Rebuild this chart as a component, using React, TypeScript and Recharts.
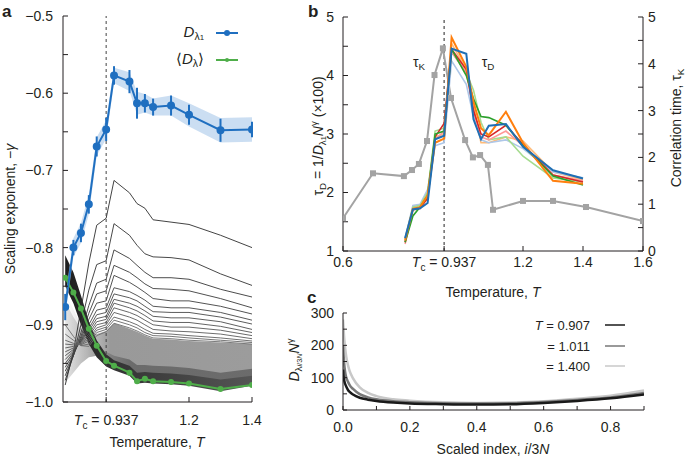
import React from "react";
import { ComposedChart, Line, Area, XAxis, YAxis, ReferenceLine, ErrorBar } from "recharts";

const FONT = "'Liberation Sans', Arial, Helvetica, sans-serif";
const INK = "#231f20";
const TC = 0.937;

// ---- panel a: scaling exponents vs temperature ----
const tempsA = [0.807, 0.833, 0.857, 0.882, 0.907, 0.937, 0.962, 1.011, 1.035, 1.06, 1.086, 1.143, 1.2, 1.3, 1.4];
const dLambda1 = [-0.877, -0.8, -0.781, -0.744, -0.669, -0.647, -0.577, -0.585, -0.613, -0.613, -0.618, -0.616, -0.628, -0.648, -0.647];
const dLambda1Err = [0.017, 0.01, 0.012, 0.012, 0.013, 0.015, 0.012, 0.015, 0.02, 0.012, 0.011, 0.013, 0.013, 0.015, 0.01];
const dLambda1Band = [0.012, 0.012, 0.013, 0.013, 0.012, 0.012, 0.01, 0.012, 0.015, 0.012, 0.011, 0.013, 0.015, 0.016, 0.016];
const dMean = [-0.839, -0.858, -0.879, -0.905, -0.927, -0.947, -0.953, -0.962, -0.973, -0.97, -0.973, -0.974, -0.976, -0.983, -0.978];

// individual eigenvalue curves (the upper, well separated ones)
const eig1 = [-0.978, -0.935, -0.88, -0.82, -0.771, -0.762, -0.713, -0.729, -0.743, -0.749, -0.764, -0.767, -0.77, -0.784, -0.8];
const eig2 = [-0.972, -0.94, -0.9, -0.855, -0.822, -0.817, -0.769, -0.784, -0.797, -0.808, -0.812, -0.813, -0.816, -0.834, -0.849];
const eig3 = [-0.966, -0.94, -0.91, -0.875, -0.846, -0.841, -0.803, -0.814, -0.823, -0.832, -0.839, -0.839, -0.841, -0.854, -0.864];
const eig4 = [-0.96, -0.94, -0.915, -0.885, -0.86, -0.856, -0.823, -0.832, -0.839, -0.847, -0.853, -0.854, -0.856, -0.866, -0.878];
const eig5 = [-0.955, -0.938, -0.918, -0.893, -0.872, -0.869, -0.836, -0.845, -0.851, -0.858, -0.866, -0.869, -0.869, -0.876, -0.886];
const eig6 = [-0.95, -0.936, -0.92, -0.9, -0.881, -0.878, -0.852, -0.857, -0.862, -0.868, -0.876, -0.878, -0.878, -0.884, -0.894];
const eig7 = [-0.945, -0.934, -0.921, -0.905, -0.887, -0.884, -0.86, -0.865, -0.869, -0.876, -0.883, -0.884, -0.884, -0.89, -0.899];
const eig8 = [-0.94, -0.932, -0.922, -0.908, -0.892, -0.889, -0.867, -0.872, -0.876, -0.882, -0.889, -0.891, -0.891, -0.896, -0.906];
const eig9 = [-0.935, -0.93, -0.923, -0.912, -0.896, -0.893, -0.872, -0.878, -0.882, -0.888, -0.895, -0.897, -0.897, -0.902, -0.91];
const eig10 = [-0.93, -0.928, -0.924, -0.915, -0.9, -0.897, -0.878, -0.884, -0.888, -0.894, -0.9, -0.903, -0.903, -0.907, -0.914];
const eig11 = [-0.925, -0.926, -0.925, -0.918, -0.904, -0.9, -0.884, -0.89, -0.894, -0.9, -0.906, -0.908, -0.909, -0.912, -0.918];
const eig12 = [-0.92, -0.924, -0.926, -0.921, -0.907, -0.903, -0.89, -0.896, -0.9, -0.906, -0.911, -0.912, -0.914, -0.917, -0.921];
const eig13 = [-0.912, -0.92, -0.927, -0.925, -0.91, -0.906, -0.894, -0.9, -0.904, -0.91, -0.914, -0.915, -0.917, -0.92, -0.923];
const eig14 = [-0.9, -0.915, -0.927, -0.928, -0.914, -0.909, -0.898, -0.904, -0.908, -0.913, -0.917, -0.918, -0.92, -0.922, -0.925];
const eigLines = [eig1, eig2, eig3, eig4, eig5, eig6, eig7, eig8, eig9, eig10, eig11, eig12, eig13, eig14];

// dense bundle of the remaining curves (upper / lower edge)
const denseHi = [-0.87, -0.89, -0.905, -0.912, -0.912, -0.908, -0.898, -0.905, -0.909, -0.914, -0.918, -0.919, -0.921, -0.923, -0.925];
const denseLo = [-0.975, -0.962, -0.95, -0.942, -0.94, -0.944, -0.95, -0.956, -0.963, -0.963, -0.964, -0.965, -0.967, -0.973, -0.968];
const midHi = [-0.86, -0.88, -0.9, -0.918, -0.93, -0.935, -0.94, -0.945, -0.952, -0.952, -0.953, -0.954, -0.956, -0.962, -0.957];
const darkHi = [-0.81, -0.832, -0.862, -0.895, -0.92, -0.938, -0.946, -0.953, -0.962, -0.961, -0.962, -0.963, -0.965, -0.971, -0.966];
const darkLo = [-0.85, -0.872, -0.9, -0.925, -0.942, -0.954, -0.959, -0.966, -0.976, -0.975, -0.976, -0.977, -0.979, -0.986, -0.979];

// ---- panel b: correlation times ----
const tauBlue = [1.22, 1.71, 1.73, 1.82, 2.91, 2.97, 4.46, 4.37, 3.25, 2.91, 3.14, 3.17, 2.78, 2.38, 2.24];
const tauOrange = [1.18, 1.72, 1.75, 1.95, 2.85, 2.92, 4.65, 4.15, 3.55, 3.1, 2.98, 3.38, 2.85, 2.2, 2.15];
const tauRed = [1.15, 1.72, 1.74, 1.9, 2.95, 3.18, 4.45, 4.1, 3.4, 3.0, 2.95, 3.15, 2.82, 2.3, 2.18];
const tauGreen = [1.15, 1.6, 1.75, 1.95, 3.0, 3.05, 4.45, 4.0, 3.6, 3.3, 3.28, 3.15, 2.8, 2.28, 2.13];
const tauLightGreen = [1.2, 1.75, 1.78, 2.0, 3.05, 3.1, 4.4, 4.05, 3.75, 3.2, 2.9, 2.95, 2.62, 2.25, 2.18];
const tauLightBlue = [1.22, 1.78, 1.8, 2.05, 2.8, 2.85, 4.25, 3.85, 3.3, 2.9, 2.85, 2.9, 2.75, 2.35, 2.25];
const tauPink = [1.12, 1.7, 1.72, 1.92, 2.9, 3.05, 4.4, 4.05, 3.4, 2.95, 2.9, 3.05, 2.8, 2.3, 2.2];
const tauPeach = [1.2, 1.75, 1.78, 2.0, 2.95, 3.0, 4.55, 4.1, 3.5, 2.85, 2.85, 2.95, 2.88, 2.35, 2.22];

const tempsK = [0.6, 0.7, 0.803, 0.83, 0.853, 0.88, 0.905, 0.933, 0.96, 1.007, 1.033, 1.057, 1.083, 1.1, 1.2, 1.3, 1.41, 1.6];
const tauK = [0.7, 1.66, 1.6, 1.73, 1.86, 2.35, 3.76, 4.33, 3.27, 2.37, 2.0, 2.05, 1.84, 0.88, 1.07, 1.07, 0.94, 0.64];

// ---- panel c: scaled spectra ----
const indexC = [0, 0.003, 0.006, 0.01, 0.015, 0.02, 0.03, 0.05, 0.075, 0.1, 0.15, 0.2, 0.3, 0.4, 0.5, 0.6, 0.7, 0.8, 0.9];
const specT0907 = [125, 95, 82, 72, 62, 56, 48, 38, 32, 28, 23, 20, 18, 17, 18, 22, 28, 36, 48];
const specT1011 = [200, 150, 120, 100, 87, 77, 65, 49, 39, 33, 27, 24, 21, 20, 21, 25, 31, 39, 53];
const specT1400 = [280, 230, 195, 163, 138, 120, 98, 70, 53, 43, 33, 29, 24, 22, 23, 27, 35, 44, 60];

const rowsA = tempsA.map((t, i) => {
  const row: any = {
    t,
    blue: dLambda1[i],
    blueErr: dLambda1Err[i],
    blueBand: [dLambda1[i] - dLambda1Band[i], dLambda1[i] + dLambda1Band[i]],
    green: dMean[i],
    dense: [denseLo[i], denseHi[i]],
    mid: [denseLo[i], midHi[i]],
    dark: [darkLo[i], darkHi[i]],
  };
  eigLines.forEach((e, k) => (row["e" + k] = e[i]));
  return row;
});

const tauSeries = [
  { key: "peach", values: tauPeach, color: "#ffbb78" },
  { key: "lblue", values: tauLightBlue, color: "#aec7e8" },
  { key: "lgreen", values: tauLightGreen, color: "#a6dc8f" },
  { key: "pink", values: tauPink, color: "#ff9896" },
  { key: "red", values: tauRed, color: "#d62728" },
  { key: "green", values: tauGreen, color: "#2ca02c" },
  { key: "orange", values: tauOrange, color: "#ff7f0e" },
  { key: "blue", values: tauBlue, color: "#1f6fb4" },
];
const rowsB = tempsA.map((t, i) => {
  const row: any = { t };
  tauSeries.forEach((s) => (row[s.key] = s.values[i]));
  return row;
});
const rowsK = tempsK.map((t, i) => ({ t, tk: tauK[i] }));
const rowsC = indexC.map((x, i) => ({ x, a: specT0907[i], b: specT1011[i], c: specT1400[i] }));

const tickStyle = { fontSize: 14, fill: INK, fontFamily: FONT };
const minus = (s: string) => s.replace("-", "\u2212");

function makeTempTick(offset: number) {
  return (props: any) => {
    const { x, y, payload } = props;
    const v = payload.value;
    if (Math.abs(v - TC) < 1e-6) {
      return (
        <text x={x} y={y + offset} textAnchor="middle" fontSize={14} fill={INK} fontFamily={FONT}>
          <tspan fontStyle="italic">T</tspan>
          <tspan fontSize={10} dy={4}>c</tspan>
          <tspan dy={-4}> = 0.937</tspan>
        </text>
      );
    }
    return (
      <text x={x} y={y + offset} textAnchor="middle" fontSize={14} fill={INK} fontFamily={FONT}>
        {v.toFixed(1)}
      </text>
    );
  };
}

function plainTick(offset: number, labelled: number[]) {
  return (props: any) => {
    const { x, y, payload } = props;
    const v = payload.value;
    const show = labelled.some((l) => Math.abs(l - v) < 1e-6);
    if (!show) return <g />;
    return (
      <text x={x} y={y + offset} textAnchor="middle" fontSize={14} fill={INK} fontFamily={FONT}>
        {v.toFixed(1)}
      </text>
    );
  };
}

function Txt({ x, y, rotate = 0, size = 14, align = "center", children, bold = false }: any) {
  const tx = align === "right" ? "-100%" : align === "left" ? "0" : "-50%";
  return (
    <div
      style={{
        position: "absolute",
        left: x,
        top: y,
        transform: `translate(${tx},-50%) rotate(${rotate}deg)`,
        whiteSpace: "nowrap",
        fontSize: size,
        fontFamily: FONT,
        color: INK,
        lineHeight: 1,
        fontWeight: bold ? 700 : 400,
      }}
    >
      {children}
    </div>
  );
}

const sub = { fontSize: "0.7em", verticalAlign: "-0.3em" } as const;
const sup = { fontSize: "0.7em", verticalAlign: "0.6em" } as const;

function SquareDot(p: any) {
  if (p.cx == null) return <g key={p.index} />;
  return <rect key={p.index} x={p.cx - 3} y={p.cy - 3} width={6} height={6} fill="#a3a3a3" />;
}

export default function App() {
  const yTicksA = [-1, -0.95, -0.9, -0.85, -0.8, -0.75, -0.7, -0.65, -0.6, -0.55, -0.5];
  const fmtA = (v: number) => (Math.abs(v * 10 - Math.round(v * 10)) < 1e-6 ? minus(v.toFixed(1)) : "");
  const eigColors = ["#2e2e2e", "#333", "#383838", "#3c3c3c", "#404040", "#454545", "#4a4a4a", "#4e4e4e", "#535353", "#585858", "#5c5c5c", "#606060", "#666", "#6c6c6c"];

  return (
    <div style={{ position: "absolute", left: 0, top: 0, width: 685, height: 458, background: "#fff", overflow: "hidden" }}>
      {/* panel a */}
      <div style={{ position: "absolute", left: 0, top: 0 }}>
        <ComposedChart width={262} height={458} data={rowsA} margin={{ top: 16, right: 10, bottom: 26, left: 18 }}>
          <defs>
            <linearGradient id="denseFade" x1="0" y1="0" x2="1" y2="0">
              <stop offset="0%" stopColor="#a8a8a8" stopOpacity={0.3} />
              <stop offset="12%" stopColor="#a0a0a0" stopOpacity={0.55} />
              <stop offset="24%" stopColor="#999" stopOpacity={1} />
              <stop offset="100%" stopColor="#9c9c9c" stopOpacity={1} />
            </linearGradient>
            <linearGradient id="midFade" x1="0" y1="0" x2="1" y2="0">
              <stop offset="0%" stopColor="#777" stopOpacity={0} />
              <stop offset="20%" stopColor="#6a6a6a" stopOpacity={0.4} />
              <stop offset="35%" stopColor="#666" stopOpacity={0.9} />
              <stop offset="100%" stopColor="#666" stopOpacity={0.9} />
            </linearGradient>
            <linearGradient id="darkFade" x1="0" y1="0" x2="1" y2="0">
              <stop offset="0%" stopColor="#1e1e1e" />
              <stop offset="25%" stopColor="#333" />
              <stop offset="100%" stopColor="#555" />
            </linearGradient>
          </defs>
          <XAxis dataKey="t" type="number" domain={[0.8, 1.4]} ticks={[TC, 1.2, 1.4]} allowDataOverflow
            height={30} tickSize={-5} tickMargin={5} stroke={INK} tick={makeTempTick(23)} />
          <XAxis xAxisId="top" orientation="top" type="number" domain={[0.8, 1.4]} height={0} tick={false} tickLine={false} stroke={INK} />
          <YAxis type="number" domain={[-1, -0.5]} ticks={yTicksA} allowDataOverflow width={45}
            tickSize={-5} tickMargin={15} stroke={INK} tick={tickStyle} tickFormatter={fmtA} />
          <YAxis yAxisId="r" orientation="right" type="number" domain={[-1, -0.5]} ticks={yTicksA} width={0}
            axisLine={false} tickSize={-5} tick={false} stroke={INK} />
          <Area dataKey="dense" stroke="none" fill="url(#denseFade)" fillOpacity={1} isAnimationActive={false} />
          <Area dataKey="mid" stroke="none" fill="url(#midFade)" fillOpacity={1} isAnimationActive={false} />
          <Area dataKey="dark" stroke="none" fill="url(#darkFade)" fillOpacity={1} isAnimationActive={false} />
          {eigLines.map((_, k) => (
            <Line key={k} dataKey={"e" + k} stroke={eigColors[k]} strokeWidth={0.9} dot={false} isAnimationActive={false} />
          ))}
          <ReferenceLine x={TC} stroke="#444" strokeDasharray="3 3" strokeWidth={1} />
          <Area dataKey="blueBand" stroke="none" fill="#b9d3ee" fillOpacity={0.75} isAnimationActive={false} />
          <Line dataKey="green" stroke="#4fae4a" strokeWidth={2} isAnimationActive={false}
            dot={{ r: 2, fill: "#4fae4a", stroke: "#4fae4a" }} />
          <Line dataKey="blue" stroke="#1f6fc0" strokeWidth={2} isAnimationActive={false}
            dot={{ r: 3, fill: "#1f6fc0", stroke: "#1f6fc0" }}>
            <ErrorBar dataKey="blueErr" width={0} stroke="#1f6fc0" strokeWidth={2} />
          </Line>
        </ComposedChart>
      </div>

      {/* panel b */}
      <div style={{ position: "absolute", left: 300, top: 0 }}>
        <ComposedChart width={385} height={300} data={rowsB} margin={{ top: 17, right: 12, bottom: 24, left: 13 }}>
          <XAxis dataKey="t" type="number" domain={[0.6, 1.6]} ticks={[0.6, TC, 1.2, 1.4, 1.6]} allowDataOverflow
            height={25} tickSize={-5} tickMargin={5} stroke={INK} tick={makeTempTick(16)} />
          <XAxis xAxisId="top" orientation="top" type="number" domain={[0.6, 1.6]} height={0} tick={false} tickLine={false} stroke={INK} />
          <YAxis yAxisId="l" type="number" domain={[1, 5]} ticks={[1, 1.5, 2, 2.5, 3, 3.5, 4, 4.5, 5]} width={30}
            tickSize={-5} tickMargin={14} stroke={INK} tick={tickStyle}
            tickFormatter={(v: number) => (Number.isInteger(v) ? String(v) : "")} />
          <YAxis yAxisId="r" orientation="right" type="number" domain={[0, 5]} ticks={[0, 0.5, 1, 1.5, 2, 2.5, 3, 3.5, 4, 4.5, 5]} width={30}
            tickSize={-5} tickMargin={10} stroke={INK} tick={tickStyle}
            tickFormatter={(v: number) => (Number.isInteger(v) ? String(v) : "")} />
          <ReferenceLine x={TC} yAxisId="l" stroke="#222" strokeDasharray="3 3" strokeWidth={1} />
          <Line data={rowsK} dataKey="tk" yAxisId="r" stroke="#a3a3a3" strokeWidth={2} dot={SquareDot} isAnimationActive={false} />
          {tauSeries.map((s) => (
            <Line key={s.key} dataKey={s.key} yAxisId="l" stroke={s.color}
              strokeWidth={s.key === "blue" || s.key === "orange" ? 2 : 1.6} dot={false} isAnimationActive={false} />
          ))}
        </ComposedChart>
      </div>

      {/* panel c */}
      <div style={{ position: "absolute", left: 300, top: 300 }}>
        <ComposedChart width={385} height={158} data={rowsC} margin={{ top: 13, right: 41, bottom: 23, left: 13 }}>
          <XAxis dataKey="x" type="number" domain={[0, 0.9]} allowDataOverflow
            ticks={[0, 0.1, 0.2, 0.3, 0.4, 0.5, 0.6, 0.7, 0.8, 0.9]}
            height={25} tickSize={-4} tickMargin={4} stroke={INK} tick={plainTick(22, [0, 0.2, 0.4, 0.6, 0.8])} />
          <XAxis xAxisId="top" orientation="top" type="number" domain={[0, 0.9]} height={0} tick={false} tickLine={false} stroke={INK} />
          <YAxis type="number" domain={[0, 300]} ticks={[0, 50, 100, 150, 200, 250, 300]} width={30}
            tickSize={-4} tickMargin={13} stroke={INK} tick={tickStyle}
            tickFormatter={(v: number) => (v % 100 === 0 ? String(v) : "")} />
          <YAxis yAxisId="r" orientation="right" type="number" domain={[0, 300]} ticks={[0, 50, 100, 150, 200, 250, 300]} width={0}
            tickSize={-4} tick={false} stroke={INK} />
          <Line dataKey="c" stroke="#c8c8c8" strokeWidth={2.5} dot={false} isAnimationActive={false} type="monotone" />
          <Line dataKey="b" stroke="#777" strokeWidth={2.5} dot={false} isAnimationActive={false} type="monotone" />
          <Line dataKey="a" stroke="#1a1a1a" strokeWidth={2.5} dot={false} isAnimationActive={false} type="monotone" />
        </ComposedChart>
      </div>

      {/* panel letters */}
      <Txt x={2} y={11} size={17} bold align="left">a</Txt>
      <Txt x={308} y={11} size={17} bold align="left">b</Txt>
      <Txt x={307} y={297} size={17} bold align="left">c</Txt>

      {/* panel a labels and legend */}
      <Txt x={10} y={209} rotate={-90}>Scaling exponent, {"\u2212"}<i>γ</i></Txt>
      <Txt x={157} y={442}>Temperature, <i>T</i></Txt>
      <Txt x={204} y={33} size={15} align="right">
        <i>D</i><span style={sub}>λ<span style={{ fontSize: "0.75em" }}>1</span></span>
      </Txt>
      <Txt x={204} y={60} size={15} align="right">
        ⟨<i>D</i><span style={sub}>λ</span>⟩
      </Txt>
      <svg style={{ position: "absolute", left: 214, top: 25 }} width={28} height={45}>
        <line x1={2} y1={8} x2={24} y2={8} stroke="#1f6fc0" strokeWidth={2} />
        <circle cx={13} cy={8} r={3} fill="#1f6fc0" />
        <line x1={2} y1={35} x2={24} y2={35} stroke="#4fae4a" strokeWidth={2} />
        <circle cx={13} cy={35} r={2} fill="#4fae4a" />
      </svg>

      {/* panel b labels */}
      <Txt x={318} y={136} rotate={-90} size={14}>
        τ<span style={sub}>D</span> = 1/<i>D</i><span style={sub}>λ<span style={{ fontSize: "0.75em" }}>1</span></span>
        <i>N</i><span style={sup}>γ</span> (×100)
      </Txt>
      <Txt x={677} y={128} rotate={-90} size={14}>
        Correlation time, τ<span style={sub}>K</span>
      </Txt>
      <Txt x={419} y={63} size={14}>τ<span style={sub}>K</span></Txt>
      <Txt x={488} y={63} size={14}>τ<span style={sub}>D</span></Txt>
      <Txt x={493} y={292}>Temperature, <i>T</i></Txt>

      {/* panel c labels and legend */}
      <Txt x={294} y={360} rotate={-90} size={14}>
        <i>D</i><span style={sub}>λ<span style={{ fontSize: "0.75em" }}><i>i</i>/3<i>N</i></span></span>
        <i>N</i><span style={sup}>γ</span>
      </Txt>
      <Txt x={493} y={449}>Scaled index, <i>i</i>/3<i>N</i></Txt>
      <Txt x={590} y={325} size={13} align="right"><i>T</i> = 0.907</Txt>
      <Txt x={590} y={346} size={13} align="right">= 1.011</Txt>
      <Txt x={590} y={366} size={13} align="right">= 1.400</Txt>
      <svg style={{ position: "absolute", left: 603, top: 318 }} width={26} height={55}>
        <line x1={2} y1={7} x2={22} y2={7} stroke="#1a1a1a" strokeWidth={1.5} />
        <line x1={2} y1={28} x2={22} y2={28} stroke="#777" strokeWidth={1.5} />
        <line x1={2} y1={48} x2={22} y2={48} stroke="#c8c8c8" strokeWidth={1.5} />
      </svg>
    </div>
  );
}
